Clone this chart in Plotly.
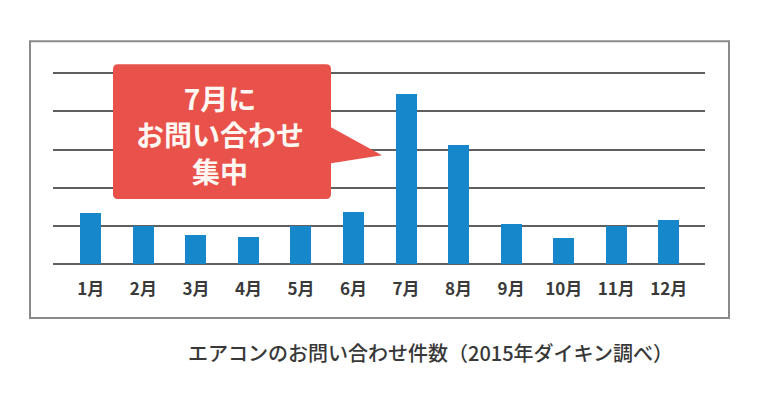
import plotly.graph_objects as go

months = ["1月", "2月", "3月", "4月", "5月", "6月", "7月", "8月", "9月", "10月", "11月", "12月"]
inquiries = [1.34, 1.0, 0.76, 0.71, 1.0, 1.36, 4.45, 3.12, 1.04, 0.68, 1.0, 1.15]
callout_lines = ["7月に", "お問い合わせ", "集中"]
caption = "エアコンのお問い合わせ件数（2015年ダイキン調べ）"

OFF = 8  # page body margin
YMAX = 5.06
W, H = 780 - OFF, 397 - OFF
B = 264 - OFF
T = B - (264 - 73) * YMAX / 5
L, R = 53 - OFF, 705 - OFF
FONT = "Noto Sans CJK JP"


def px(x):
    return (x - OFF - L) / (R - L)


def py(y):
    return (B - (y - OFF)) / (B - T)


fig = go.Figure()
fig.add_trace(go.Bar(
    x=list(range(len(months))), y=inquiries, width=0.4,
    marker=dict(color="#1787cc", line=dict(width=0)),
    hoverinfo="skip",
))

# frame
fig.add_shape(type="rect", xref="paper", yref="paper",
              x0=px(30), x1=px(729), y0=py(318), y1=py(41),
              line=dict(color="#8a8a8a", width=2), fillcolor="rgba(0,0,0,0)", layer="below")

# callout path (rounded rect + pointer)
x0, x1, y0, y1 = 113, 331, 64, 199
r = 5


def P(x, y):
    return f"{px(x):.5f},{py(y):.5f}"


path = (
    f"M {P(x0 + r, y0)} L {P(x1 - r, y0)} Q {P(x1, y0)} {P(x1, y0 + r)} "
    f"L {P(x1, 127)} L {P(382, 155)} L {P(x1, 163)} "
    f"L {P(x1, y1 - r)} Q {P(x1, y1)} {P(x1 - r, y1)} "
    f"L {P(x0 + r, y1)} Q {P(x0, y1)} {P(x0, y1 - r)} "
    f"L {P(x0, y0 + r)} Q {P(x0, y0)} {P(x0 + r, y0)} Z"
)
fig.add_shape(type="path", xref="paper", yref="paper", path=path,
              fillcolor="#e8524b", line=dict(width=0), layer="above")

fig.add_annotation(text="<br>".join(callout_lines), xref="paper", yref="paper",
                   x=px(220), y=py(134), xanchor="center", yanchor="middle",
                   showarrow=False, align="center",
                   font=dict(family=FONT, size=28, color="#fff7f2", weight="bold"))

fig.add_annotation(text=caption, xref="paper", yref="paper", x=px(186), y=py(353),
                   xanchor="left", yanchor="middle", showarrow=False,
                   font=dict(family=FONT, size=20, color="#383838", weight=500))

fig.update_layout(
    width=W, height=H,
    margin=dict(l=L, r=W - R, t=T, b=H - B, pad=0),
    paper_bgcolor="white", plot_bgcolor="white",
    showlegend=False, bargap=0,
    xaxis=dict(range=[-0.72, 11.69], tickmode="array", tickvals=list(range(len(months))),
               ticktext=months, showgrid=False, zeroline=False, showline=False,
               ticks="", ticklabelstandoff=13,
               tickfont=dict(family=FONT, size=17, color="#3a3a3a", weight="bold"),
               fixedrange=True),
    yaxis=dict(range=[0, YMAX], dtick=1, showticklabels=False, showgrid=True,
               gridcolor="#5f5f5f", gridwidth=1.5, zeroline=True, zerolinecolor="#5f5f5f",
               zerolinewidth=1.5, showline=False, fixedrange=True),
)

fig.write_html("out.html")
